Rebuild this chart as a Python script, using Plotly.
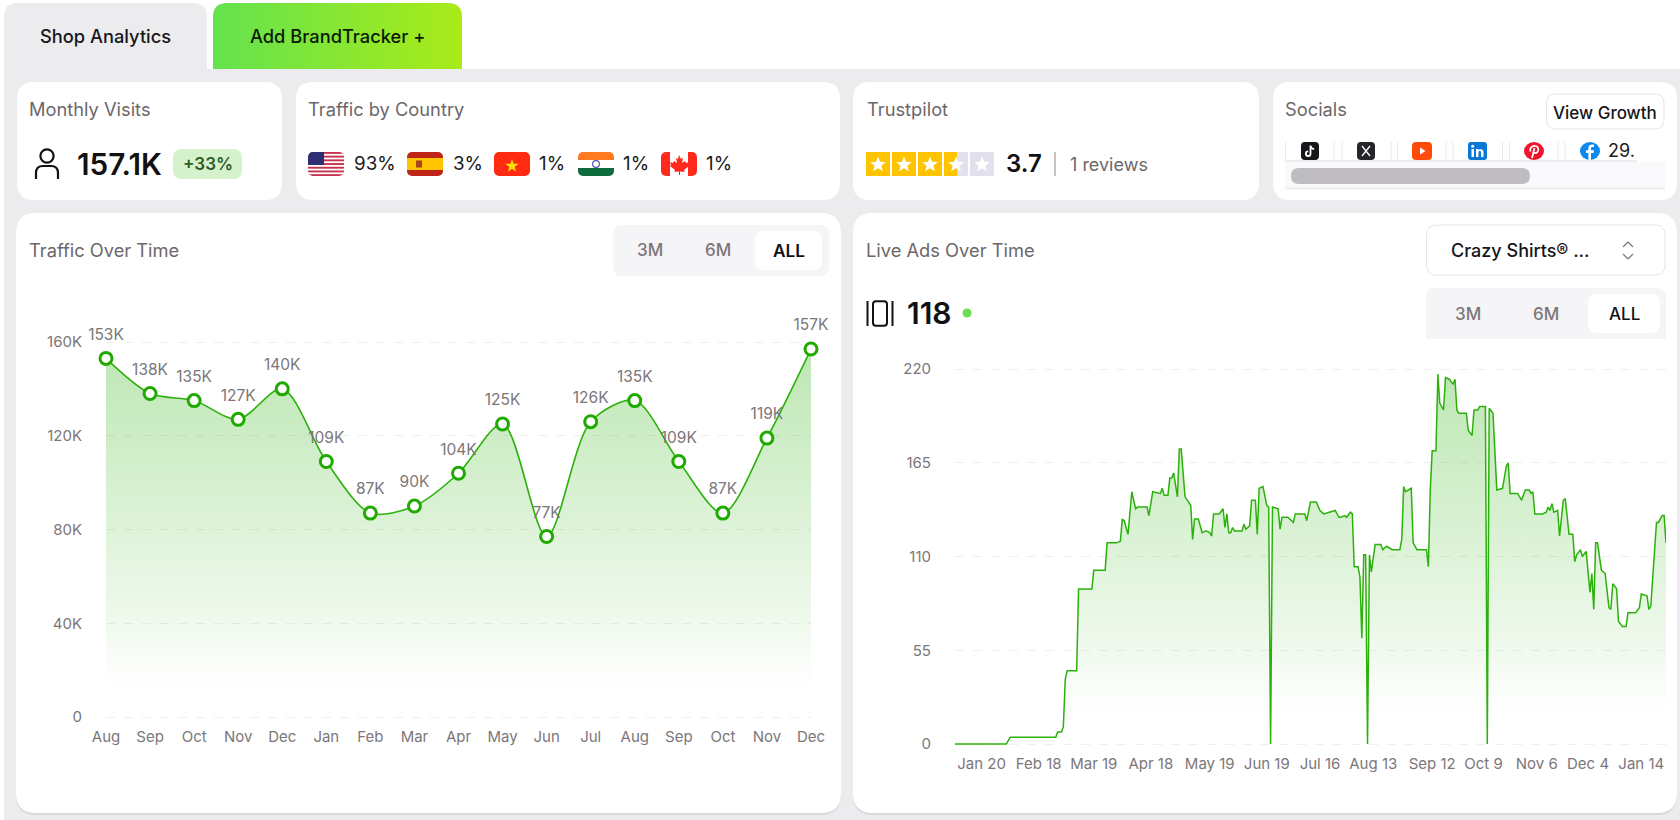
import base64
import plotly.graph_objects as go

W, H = 1680, 820
FONT = "Inter, 'Noto Sans', sans-serif"
GREEN = "#2BB10B"
MARK = "#1FAA00"
INK = "#111114"
GREY = "#6C676A"
TICK = "#7C7679"
GRIDC = "#EFEFEF"
HEAD = 18.3

# ---- Traffic over time
traffic_months = ["Aug", "Sep", "Oct", "Nov", "Dec", "Jan", "Feb", "Mar", "Apr", "May", "Jun", "Jul", "Aug", "Sep", "Oct", "Nov", "Dec"]
traffic_values = [153000, 138000, 135000, 127000, 140000, 109000, 87000, 90000, 104000, 125000, 77000, 126000, 135000, 109000, 87000, 119000, 157000]
traffic_labels = ["153K", "138K", "135K", "127K", "140K", "109K", "87K", "90K", "104K", "125K", "77K", "126K", "135K", "109K", "87K", "119K", "157K"]
traffic_ticks = [0, 40000, 80000, 120000, 160000]
traffic_tick_labels = ["0", "40K", "80K", "120K", "160K"]

# ---- Live ads over time
ads_tick_days = [14, 44, 73, 103, 134, 164, 192, 220, 251, 278, 306, 333, 361]
ads_tick_labels = ["Jan 20", "Feb 18", "Mar 19", "Apr 18", "May 19", "Jun 19", "Jul 16", "Aug 13", "Sep 12", "Oct 9", "Nov 6", "Dec 4", "Jan 14"]
ads_y_ticks = [0, 55, 110, 165, 220]
ads_days = [0, 27, 29, 53, 54, 56, 57, 58, 59, 64, 65, 72, 73, 79, 80, 85, 87, 88, 89, 91, 93, 95, 96, 101, 102, 104, 108, 109, 110, 112, 113, 114, 115, 117, 118, 119, 121, 123, 124, 125, 126, 128, 130, 132, 134, 135, 136, 139, 141, 142, 143, 144, 145, 146, 147, 151, 152, 153, 155, 156, 158, 159, 160, 162, 164, 165, 166,
            167, 170, 171, 172, 175, 178, 179, 184, 185, 187, 190, 192, 194, 197, 200, 202, 203, 205, 206, 208, 209, 210, 212, 213, 214, 215, 216, 217, 218, 219, 221, 224, 225, 227, 230, 234, 235, 236, 237, 240, 241, 243, 248, 249, 250, 251, 253, 254, 255, 257, 258, 260, 262, 263, 264, 265, 269, 270, 272, 273, 275, 276, 279, 280, 281, 283, 285, 288, 290, 291, 292, 296, 298, 300, 302, 303, 304, 305, 309, 311, 312, 313, 314, 315, 317, 318, 320, 321, 323, 325, 326, 327, 329, 330, 332, 334, 335, 336, 337, 338, 340, 342, 344, 345, 346, 348, 349, 351, 353, 354, 358, 360, 361, 364, 365, 366, 369, 370, 372, 373, 374]
ads_counts = [0, 0, 4, 4, 7, 7, 10, 38, 43, 43, 91, 91, 102, 102, 118, 118, 119, 132, 131, 123, 148, 138, 139, 139, 134, 148, 147, 150, 146, 146, 156, 156, 159, 145, 173, 173, 145, 142, 140, 120, 132, 132, 124, 125, 124, 122, 135, 135, 138, 127, 135, 124, 124, 127, 125, 125, 129, 126, 128, 143, 143, 123, 150, 151, 140, 139, 0,
              139, 138, 126, 133, 133, 130, 135, 135, 131, 142, 142, 137, 135, 136, 137, 133, 133, 134, 133, 136, 135, 104, 104, 98, 62, 111, 111, 0, 111, 101, 117, 117, 114, 116, 114, 114, 120, 151, 148, 150, 118, 114, 114, 104, 149, 172, 172, 217, 200, 196, 215, 214, 211, 214, 196, 194, 194, 184, 181, 196, 196, 198, 198, 0, 197, 194, 149, 150, 163, 165, 147, 147, 143, 149, 149, 147, 148, 135, 135, 136, 139, 137, 141, 136, 137, 122, 143, 144, 123, 123, 107, 111, 114, 110, 113, 89, 100, 79, 118, 118, 102, 100, 80, 79, 94, 91, 72, 69, 69, 77, 77, 80, 88, 87, 79, 81, 130, 130, 134, 134, 118]

# ---- Headline numbers
country_shares = ["93%", "3%", "1%", "1%", "1%"]


def px(x):
    return x / W


def py(y):
    return 1 - y / H


def rr_path(x0, y0, x1, y1, r, top_only=False):
    rb = 0 if top_only else r
    pts = [
        f"M {px(x0 + r)},{py(y0)}", f"L {px(x1 - r)},{py(y0)}",
        f"Q {px(x1)},{py(y0)} {px(x1)},{py(y0 + r)}", f"L {px(x1)},{py(y1 - rb)}",
        f"Q {px(x1)},{py(y1)} {px(x1 - rb)},{py(y1)}", f"L {px(x0 + rb)},{py(y1)}",
        f"Q {px(x0)},{py(y1)} {px(x0)},{py(y1 - rb)}", f"L {px(x0)},{py(y0 + r)}",
        f"Q {px(x0)},{py(y0)} {px(x0 + r)},{py(y0)}", "Z",
    ]
    return " ".join(pts)


shapes = []
annotations = []
images = []


def box(x0, y0, x1, y1, r, fill, line=None, top_only=False, lw=1):
    shapes.append(dict(type="path", path=rr_path(x0, y0, x1, y1, r, top_only), xref="paper", yref="paper",
                       fillcolor=fill, line=dict(color=line or fill, width=lw if line else 0), layer="below"))


def seg(x0, y0, x1, y1, color, w=1):
    shapes.append(dict(type="line", x0=px(x0), x1=px(x1), y0=py(y0), y1=py(y1), xref="paper", yref="paper",
                       line=dict(color=color, width=w), layer="below"))


def label(text, x, y, size=HEAD, color=GREY, anchor="left", weight=400):
    annotations.append(dict(text=text, x=px(x), y=py(y), xref="paper", yref="paper", showarrow=False,
                            xanchor=anchor, yanchor="middle", align=anchor,
                            font=dict(family=FONT, size=size, color=color, weight=weight),
                            borderpad=0, borderwidth=0))


def svg_image(x, y, w, h, body, vb=None):
    vb = vb or f"0 0 {w} {h}"
    svg = (f'<svg xmlns="http://www.w3.org/2000/svg" width="{w * 4}" height="{h * 4}" viewBox="{vb}" '
           f'preserveAspectRatio="none">{body}</svg>')
    uri = "data:image/svg+xml;base64," + base64.b64encode(svg.encode()).decode()
    images.append(dict(source=uri, xref="paper", yref="paper", x=px(x), y=py(y), sizex=w / W, sizey=h / H,
                       xanchor="left", yanchor="top", sizing="stretch", layer="above"))


PAGE = "#ECEBEE"
# page background
shapes.append(dict(type="rect", x0=px(4), x1=1, y0=0, y1=py(69), xref="paper", yref="paper",
                   fillcolor=PAGE, line=dict(width=0), layer="below"))
box(4, 3, 207, 70, 14, PAGE, top_only=True)
svg_image(213, 3, 249, 66,
          '<defs><linearGradient id="g"><stop offset="0" stop-color="#64E24E"/><stop offset="1" stop-color="#A9EB18"/></linearGradient></defs>'
          '<path d="M14 0H235Q249 0 249 14V66H0V14Q0 0 14 0Z" fill="url(#g)"/>')
label("Shop Analytics", 40, 35.5, 18.3, "#15151A", weight=500)
label("Add BrandTracker +", 250, 35.5, 18.3, "#0C1A08", weight=500)

# small cards
for x0, x1 in [(17, 282), (296, 840), (853, 1259), (1273, 1677)]:
    box(x0, 82, x1, 200, 17, "#FFFFFF")
# chart cards
for x0, x1 in [(16, 841), (853, 1677)]:
    box(x0, 215, x1, 815, 20, "#D9D8DC")
    box(x0, 213, x1, 813, 20, "#FFFFFF")

# monthly visits
label("Monthly Visits", 29, 108.5)
svg_image(34, 148, 26, 32, '<circle cx="13" cy="8" r="6.6" fill="none" stroke="#111" stroke-width="2.2"/>'
          '<path d="M2 31V25Q2 18 9 18H17Q24 18 24 25V31" fill="none" stroke="#111" stroke-width="2.2"/>')
label("157.1K", 77, 164, 29.7, INK, weight=600)
box(173, 149, 242, 179, 9, "#D5F2CD")
label("+33%", 207.5, 164, 17, "#2E5B26", "center", 600)

# countries
label("Traffic by Country", 308, 108.5)
clip = '<defs><clipPath id="c"><rect width="36" height="24" rx="5"/></clipPath></defs><g clip-path="url(#c)">'
us = clip + '<rect width="36" height="24" fill="#fff"/>' + "".join(
    f'<rect y="{i * 3.7:.1f}" width="36" height="1.85" fill="#C9304A"/>' for i in range(7)) + '<rect width="16" height="13" fill="#2D2F72"/></g>'
es = clip + '<rect width="36" height="24" fill="#BE2517"/><rect y="6" width="36" height="12" fill="#FFC400"/><rect x="9" y="8.5" width="6" height="7" fill="#A8441C"/></g>'
vn = clip + '<rect width="36" height="24" fill="#FF2A12"/><path d="M18 5.5l2 6.3h6.4l-5.2 3.8 2 6.1-5.2-3.8-5.2 3.8 2-6.1-5.2-3.8H16z" fill="#FFE100" transform="translate(3.6 2.4) scale(.8)"/></g>'
ind = clip + '<rect width="36" height="24" fill="#fff"/><rect width="36" height="8" fill="#FF7A21"/><rect y="16" width="36" height="8" fill="#0E6B3E"/><circle cx="18" cy="12" r="3.4" fill="none" stroke="#5A57B5" stroke-width="1.2"/></g>'
ca = clip + '<rect width="36" height="24" fill="#fff"/><rect width="9" height="24" fill="#FF2A1C"/><rect x="27" width="9" height="24" fill="#FF2A1C"/><path d="M18 3l2 4 2-1-1 5 3-2 1 2 3-1-1 3 1 1-5 4 .5 2-4.500-.5V23h-1v-3.500L13.500 20l.5-2-5-4 1-1-1-3 3 1 1-2 3 2-1-5 2 1z" fill="#FF2A1C"/></g>'
flag_x = [308, 407, 494, 578, 661]
for fx, body, share, tx in zip(flag_x, [us, es, vn, ind, ca], country_shares, [354, 453, 539, 623, 706]):
    svg_image(fx, 152, 36, 24, body)
    label(share, tx, 163.5, 18.8, "#1A1A1E")

# trustpilot
label("Trustpilot", 866.5, 108.5)
star = '<path d="M12 4.500l2.100 5.300 5.700.3-4.400 3.600 1.500 5.500L12 16.200 7.100 19.300l1.500-5.500-4.400-3.600 5.700-.3z" fill="#fff"/>'
for i, sx in enumerate([866, 892, 918, 944, 970]):
    if i < 3:
        bg = '<rect width="24" height="24" fill="#FFC400"/>'
    elif i == 3:
        bg = '<rect width="24" height="24" fill="#E2E0EC"/><rect width="13" height="24" fill="#FFC400"/>'
    else:
        bg = '<rect width="24" height="24" fill="#E2E0EC"/>'
    svg_image(sx, 152, 24, 24, bg + star)
label("3.7", 1006, 164, 24, INK, weight=600)
seg(1055, 152, 1055, 176, "#8C888B", 1)
label("1 reviews", 1070, 164.5, 18, GREY)

# socials
label("Socials", 1285, 108.5)
box(1546.5, 94, 1664, 129, 9, "#FFFFFF", "#E5E5E8")
label("View Growth", 1605.2, 113, 17, "#15151A", "center", 500)
box(1285, 162, 1665, 188, 0.1, "#F9F8FB")
seg(1285, 188.5, 1665, 188.5, "#ECEBEE", 1.5)
seg(1285, 161, 1637, 161, "#ECEBEE", 2)
for sx in [1285.6, 1334, 1342, 1391, 1397.6, 1446, 1453, 1502.5, 1509.6, 1558, 1565]:
    seg(sx, 142, sx, 160, "#E8E7EA", 1)
box(1291, 168, 1530, 184, 8, "#BFBDC0")
svg_image(1301, 142, 18, 18, '<rect width="18" height="18" rx="4" fill="#17161A"/><path d="M9.500 3.500v8.200a2.300 2.300 0 1 1-2.300-2.300M9.500 3.500c.3 2.200 1.600 3.400 3.600 3.600" fill="none" stroke="#fff" stroke-width="1.8"/>')
svg_image(1357, 142, 18, 18, '<rect width="18" height="18" rx="4" fill="#26252A"/><path d="M5 4l8 10M13 4L5 14" stroke="#fff" stroke-width="1.3"/>')
svg_image(1412, 142, 20, 18, '<rect width="20" height="18" rx="4" fill="#FF4A0A"/><path d="M8 5.500l5.500 3.500L8 12.500z" fill="#fff"/>')
svg_image(1468, 142, 19, 18, '<rect width="19" height="18" rx="3" fill="#0A79D6"/><rect x="3.500" y="7" width="2.500" height="8" fill="#fff"/><circle cx="4.700" cy="4.300" r="1.500" fill="#fff"/><path d="M8 15V7h2.500v1.200C11.500 6.800 15.500 6.500 15.500 10v5H13v-4.500c0-2-2.500-1.800-2.500 0V15z" fill="#fff"/>')
svg_image(1524, 142, 20, 18, '<ellipse cx="10" cy="9" rx="10" ry="9" fill="#F2142C"/><path d="M8 16l2.500-10M6.500 9.500C5 5.500 9 3.500 11.500 4c3.500.6 3.500 5 1.500 6.500-1.500 1-3 .5-3-.5" fill="none" stroke="#fff" stroke-width="1.700"/>')
svg_image(1580, 142, 20, 18, '<ellipse cx="10" cy="9" rx="10" ry="9" fill="#0D88F0"/><path d="M11 18v-7h2.500l.5-2.800h-3V6.500c0-1 .6-1.500 1.600-1.500H14V2.800c-3-.6-5.600.2-5.600 3.300v2.100H6V11h2.400v7z" fill="#fff"/>')
label("29.", 1608, 151, 18, "#1A1A1E")

# chart headers
label("Traffic Over Time", 28.5, 250.5)
box(613, 225, 829, 276, 9, "#F5F4F7")
box(755, 231, 822, 270, 9, "#FFFFFF")
label("3M", 650, 250.5, 17, TICK, "center", 500)
label("6M", 718, 250.5, 17, TICK, "center", 500)
label("ALL", 789, 250.5, 17.2, INK, "center", 600)

label("Live Ads Over Time", 866, 250.5)
box(1426.5, 225, 1665, 275, 10, "#FFFFFF", "#E6E5E9")
label("Crazy Shirts® ...", 1451, 250.5, 18, "#15151A", weight=500)
seg(1623, 247, 1628, 242, TICK, 1.3)
seg(1628, 242, 1633, 247, TICK, 1.3)
seg(1623, 254, 1628, 259, TICK, 1.3)
seg(1628, 259, 1633, 254, TICK, 1.3)
svg_image(866, 300, 28, 27, '<rect x="7" y="1.200" width="14" height="24.600" rx="3" fill="none" stroke="#111" stroke-width="2"/><path d="M1.500 1v25M26.500 1v25" stroke="#111" stroke-width="2"/>')
label("118", 907, 313, 30, INK, weight=600)
svg_image(962, 308, 10, 10, '<circle cx="5" cy="5" r="4.500" fill="#6BDF4F"/>')
box(1426, 288, 1666, 345, 9, "#F5F4F7")
shapes.append(dict(type="rect", x0=px(1420), x1=px(1670), y0=py(346), y1=py(339), xref="paper", yref="paper",
                   fillcolor="#FFFFFF", line=dict(width=0), layer="below"))
box(1588, 294, 1660, 333, 9, "#FFFFFF")
label("3M", 1468, 313.5, 17, TICK, "center", 500)
label("6M", 1546, 313.5, 17, TICK, "center", 500)
label("ALL", 1624, 313.5, 17, INK, "center", 500)

FADE = [[0, "rgba(43,177,11,0.31)"], [0.52, "rgba(43,177,11,0.155)"], [0.8, "rgba(43,177,11,0.07)"],
        [0.93, "rgba(43,177,11,0.015)"], [1, "rgba(43,177,11,0)"]]

fig = go.Figure()
idx = list(range(len(traffic_values)))
fig.add_trace(go.Scatter(
    x=idx, y=traffic_values, mode="lines", xaxis="x", yaxis="y", hoverinfo="skip",
    line=dict(color=GREEN, width=1.6, shape="spline", smoothing=0.85), fill="tozeroy",
    fillgradient=dict(type="vertical", start=157000, stop=10000, colorscale=FADE),
    cliponaxis=False))
fig.add_trace(go.Scatter(
    x=idx, y=traffic_values, mode="markers+text", xaxis="x", yaxis="y", text=traffic_labels,
    textposition="top center", textfont=dict(family=FONT, size=15.5, color=TICK),
    marker=dict(size=22, color="rgba(0,0,0,0)", line=dict(width=0)), cliponaxis=False, hoverinfo="skip"))
fig.add_trace(go.Scatter(
    x=idx, y=traffic_values, mode="markers", xaxis="x", yaxis="y",
    marker=dict(size=12, color="#FFFFFF", line=dict(color=MARK, width=3)), cliponaxis=False))
fig.add_trace(go.Scatter(
    x=ads_days, y=ads_counts, mode="lines", xaxis="x2", yaxis="y2", hoverinfo="skip",
    line=dict(color=GREEN, width=1.5), fill="tozeroy",
    fillgradient=dict(type="vertical", start=217, stop=15, colorscale=FADE)))

tickfont = dict(family=FONT, size=15, color=TICK)
grid = dict(showgrid=True, gridcolor=GRIDC, griddash="dash", gridwidth=1, zeroline=False, showline=False,
            ticks="", tickfont=tickfont, automargin=False)
xcommon = dict(showgrid=False, zeroline=False, showline=False, ticks="", tickfont=tickfont, tickangle=0,
               tickmode="array", automargin=False)
fig.update_layout(
    template="none",
    width=W, height=H, autosize=False, margin=dict(l=0, r=0, t=0, b=0, pad=0),
    paper_bgcolor="#FFFFFF", plot_bgcolor="rgba(0,0,0,0)", showlegend=False, font=dict(family=FONT),
    shapes=shapes, annotations=annotations, images=images,
    xaxis=dict(domain=[px(106), px(811)], range=[0, 16], tickvals=idx, ticktext=traffic_months,
               ticklabelstandoff=7, **xcommon),
    yaxis=dict(domain=[py(719), py(340)], range=[-853, 160853], tickmode="array", tickvals=traffic_ticks,
               ticktext=traffic_tick_labels, ticklabelstandoff=23, anchor="x", **grid),
    xaxis2=dict(domain=[px(955), px(1666)], range=[0, 374], tickvals=ads_tick_days, ticktext=ads_tick_labels,
                ticklabelstandoff=7, anchor="y2", **xcommon),
    yaxis2=dict(domain=[py(746.05), py(366.95)], range=[-1.2, 221.2], tickmode="array", tickvals=ads_y_ticks,
                ticklabelstandoff=23, anchor="x2", **grid),
)

fig.write_html("out.html", config={"displayModeBar": False},
               post_script="document.body.style.margin='0';document.documentElement.style.overflow='hidden';")
